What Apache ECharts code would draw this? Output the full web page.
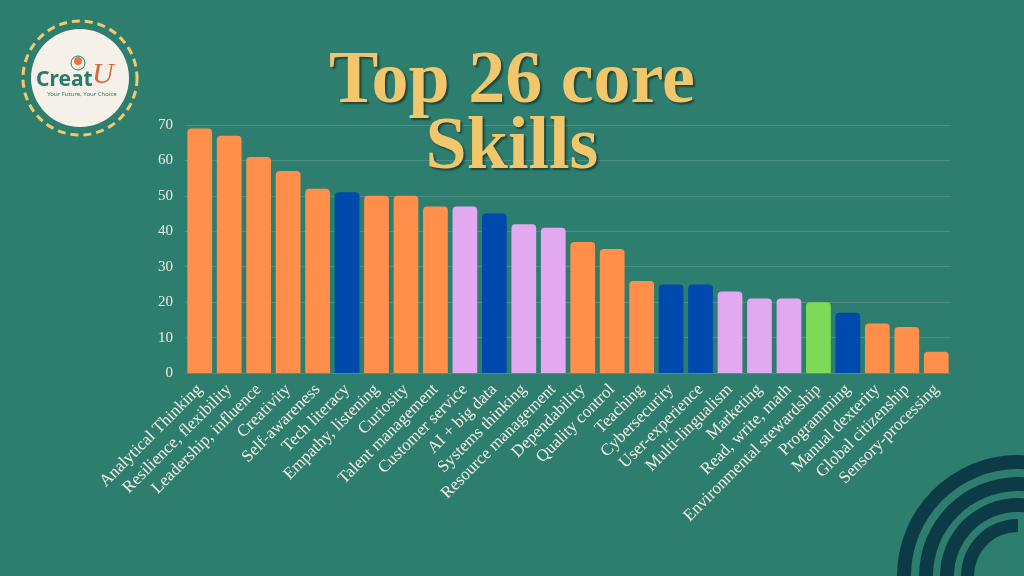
<!DOCTYPE html>
<html>
<head>
<meta charset="utf-8">
<title>Top 26 core Skills</title>
<script src="https://cdn.jsdelivr.net/npm/echarts@6/dist/echarts.min.js"></script>
<style>
  html, body { margin: 0; padding: 0; background: #2e7e70; }
  #chart { width: 1024px; height: 576px; }
</style>
</head>
<body>
<div id="chart"></div>
<script>
var skills = [
  'Analytical Thinking', 'Resilience, flexibility', 'Leadership, influence', 'Creativity',
  'Self-awareness', 'Tech literacy', 'Empathy, listening', 'Curiosity', 'Talent management',
  'Customer service', 'AI + big data', 'Systems thinking', 'Resource management',
  'Dependability', 'Quality control', 'Teaching', 'Cybersecurity', 'User-experience',
  'Multi-lingualism', 'Marketing', 'Read, write, math', 'Environmental stewardship',
  'Programming', 'Manual dexterity', 'Global citizenship', 'Sensory-processing'
];
var scores = [69, 67, 61, 57, 52, 51, 50, 50, 47, 47, 45, 42, 41, 37, 35, 26, 25, 25, 23, 21, 21, 20, 17, 14, 13, 6];
// o = orange, b = blue, p = lilac, g = green
var groups = ['o', 'o', 'o', 'o', 'o', 'b', 'o', 'o', 'o', 'p', 'b', 'p', 'p', 'o', 'o', 'o', 'b', 'b', 'p', 'p', 'p', 'g', 'b', 'o', 'o', 'o'];

var groupColors = { o: '#ff8f4b', b: '#004aad', p: '#e2a8f0', g: '#7ed957' };

var myChart = echarts.init(document.getElementById('chart'));

var barData = [];
for (var i = 0; i < scores.length; i++) {
  barData.push({ value: scores[i], itemStyle: { color: groupColors[groups[i]] } });
}

var ringColor = '#0d3b45';
var titleStyle = {
  fill: '#f2c76b',
  font: 'bold 74px "Liberation Serif"',
  textShadowColor: 'rgba(0,0,0,0.45)', textShadowOffsetX: 2, textShadowOffsetY: 2, textShadowBlur: 2
};

var options = {
  backgroundColor: '#2e7e70',
  grid: { left: 185, right: 73, top: 125, bottom: 203 },
  xAxis: {
    type: 'category',
    data: skills,
    axisLine: { show: false },
    axisTick: { show: false },
    axisLabel: {
      interval: 0,
      rotate: 45,
      margin: 14,
      color: '#f4efe4',
      fontFamily: 'Liberation Serif',
      fontSize: 17
    }
  },
  yAxis: {
    type: 'value',
    min: 0,
    max: 70,
    interval: 10,
    axisLine: { show: false },
    axisTick: { show: false },
    axisLabel: {
      margin: 12,
      color: '#f4efe4',
      fontFamily: 'Liberation Serif',
      fontSize: 15
    },
    splitLine: { lineStyle: { color: 'rgba(255,255,255,0.14)', width: 1 } }
  },
  series: [{
    type: 'bar',
    data: barData,
    barCategoryGap: '16%',
    itemStyle: { borderRadius: [4, 4, 0, 0] }
  }],
  graphic: [
    // title
    {
      type: 'text', left: 'center', top: 46, z: 10,
      style: Object.assign({ text: 'Top 26 core' }, titleStyle)
    },
    {
      type: 'text', left: 'center', top: 112, z: 10,
      style: Object.assign({ text: 'Skills' }, titleStyle)
    },
    // logo
    {
      type: 'circle', shape: { cx: 80, cy: 78, r: 57 },
      style: { fill: 'none', stroke: '#f3c96a', lineWidth: 3, lineDash: [8, 5] }
    },
    {
      type: 'circle', shape: { cx: 80, cy: 78, r: 49 },
      style: { fill: '#f5f0e8' }
    },
    {
      type: 'circle', shape: { cx: 78, cy: 63, r: 7 },
      style: { fill: 'none', stroke: '#2b7a6b', lineWidth: 1 }
    },
    {
      type: 'circle', shape: { cx: 78, cy: 61, r: 4 },
      style: { fill: '#e8734a' }
    },
    {
      type: 'text', x: 36, y: 70,
      style: { text: 'Creat', fill: '#2b7a6b', font: 'bold 21px "Noto Sans"' }
    },
    {
      type: 'text', x: 92, y: 60,
      style: { text: 'U', fill: '#d9663a', font: 'italic 30px "Liberation Serif"' }
    },
    {
      type: 'text', x: 82, y: 91,
      style: { text: 'Your Future, Your Choice', fill: '#2b7a6b', font: '6px "Noto Sans"', align: 'center' }
    },
    // decorative rings, bottom right
    { type: 'ring', shape: { cx: 1018, cy: 576, r: 121, r0: 107 }, style: { fill: ringColor } },
    { type: 'ring', shape: { cx: 1018, cy: 576, r: 99, r0: 85 }, style: { fill: ringColor } },
    { type: 'ring', shape: { cx: 1018, cy: 576, r: 78, r0: 64 }, style: { fill: ringColor } },
    {
      type: 'sector',
      shape: { cx: 1018, cy: 576, r: 57, r0: 44, startAngle: Math.PI / 2, endAngle: Math.PI * 3 / 2, clockwise: true },
      style: { fill: ringColor }
    }
  ]
};

myChart.setOption(options);
</script>
</body>
</html>
